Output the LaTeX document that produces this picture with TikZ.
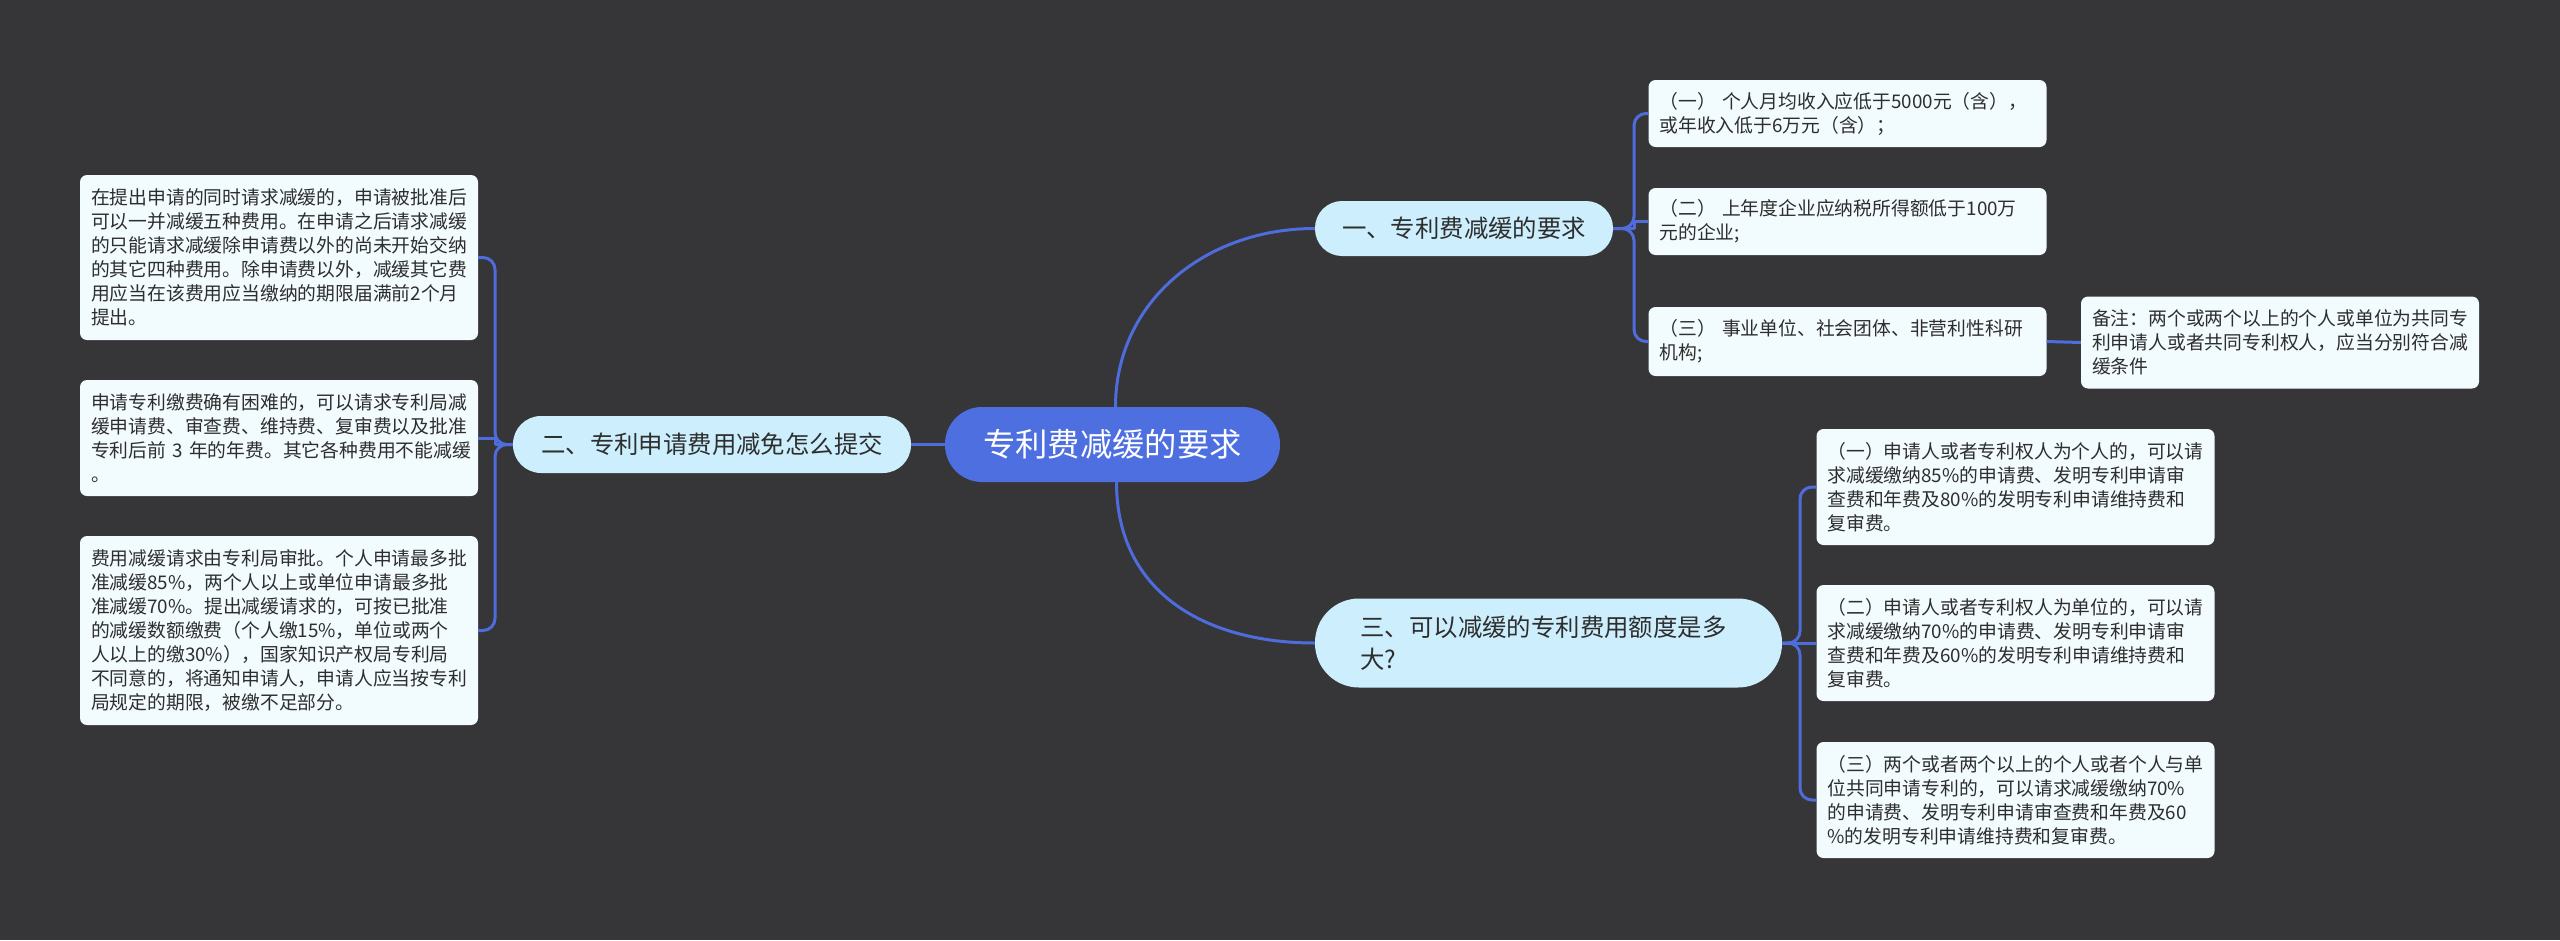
\documentclass[tikz,border=0pt]{standalone}
\usepackage{fontspec}
\setmainfont{Noto Sans CJK SC}
\usetikzlibrary{calc}
\definecolor{bg}{HTML}{363537}
\definecolor{mainc}{HTML}{4D6FE0}
\definecolor{subc}{HTML}{CDEFFD}
\definecolor{leafc}{HTML}{F2FBFE}
\definecolor{linec}{HTML}{4E6CDC}
\definecolor{txtc}{HTML}{2E2E2E}
\begin{document}
\begin{tikzpicture}[x=1pt,y=-1pt,
  conn/.style={draw=linec, line width=3pt, line join=round},
  rconn/.style={conn, rounded corners=12pt},
  leafbox/.style={fill=leafc, rounded corners=7pt, text=txtc, align=left,
    text width=376pt, inner xsep=11pt, inner ysep=0pt,
    font=\fontsize{18.8}{24}\selectfont},
  subbox/.style={fill=subc, text=txtc, inner sep=0pt,
    font=\fontsize{24.4}{32}\selectfont},
  mainbox/.style={fill=mainc, text=white, inner sep=0pt, rounded corners=37pt,
    minimum width=335pt, minimum height=75pt,
    font=\fontsize{32.3}{38}\selectfont}]
\path[fill=bg] (0,0) rectangle (2560,940);

% main and sub topics
\node[mainbox] (root) at (1112.5,444.5) {专利费减缓的要求};
\node[subbox, rounded corners=28pt, minimum width=398pt, minimum height=57pt] (two) at (712,444.5) {二、专利申请费用减免怎么提交};
\node[subbox, rounded corners=27pt, minimum width=298pt, minimum height=55pt] (one) at (1464,228.5) {一、专利费减缓的要求};
\node[subbox, rounded corners=44pt, minimum width=467pt, minimum height=89pt,
  align=left, text width=376pt, inner xsep=45pt] (three) at (1548.5,643) {三、可以减缓的专利费用额度是多\\大?};

% right leaves of one
\node[leafbox, minimum height=67pt] (r1) at (1847.5,113.5) {（一）~个人月均收入应低于5000元（含），\\或年收入低于6万元（含）；};
\node[leafbox, minimum height=67pt] (r2) at (1847.5,221.5) {（二）~上年度企业应纳税所得额低于100万\\元的企业;};
\node[leafbox, minimum height=69pt] (r3) at (1847.5,341.5) {（三）~事业单位、社会团体、非营利性科研\\机构;};
\node[leafbox, minimum height=92pt] (note) at (2280,342.5) {备注：两个或两个以上的个人或单位为共同专\\利申请人或者共同专利权人，应当分别符合减\\缓条件};

% right leaves of three
\node[leafbox, minimum height=116pt] (t1) at (2015.5,487) {（一）申请人或者专利权人为个人的，可以请\\求减缓缴纳85\%的申请费、发明专利申请审\\查费和年费及80\%的发明专利申请维持费和\\复审费。};
\node[leafbox, minimum height=116pt] (t2) at (2015.5,643) {（二）申请人或者专利权人为单位的，可以请\\求减缓缴纳70\%的申请费、发明专利申请审\\查费和年费及60\%的发明专利申请维持费和\\复审费。};
\node[leafbox, minimum height=116pt] (t3) at (2015.5,800) {（三）两个或者两个以上的个人或者个人与单\\位共同申请专利的，可以请求减缓缴纳70\%\\的申请费、发明专利申请审查费和年费及60\\\%的发明专利申请维持费和复审费。};

% left leaves of two
\node[leafbox, minimum height=165pt] (l1) at (279,257.5) {在提出申请的同时请求减缓的，申请被批准后\\可以一并减缓五种费用。在申请之后请求减缓\\的只能请求减缓除申请费以外的尚未开始交纳\\的其它四种费用。除申请费以外，减缓其它费\\用应当在该费用应当缴纳的期限届满前2个月\\提出。};
\node[leafbox, minimum height=116pt] (l2) at (279,438) {申请专利缴费确有困难的，可以请求专利局减\\缓申请费、审查费、维持费、复审费以及批准\\专利后前~3~年的年费。其它各种费用不能减缓\\。};
\node[leafbox, minimum height=189pt] (l3) at (279,630.5) {费用减缓请求由专利局审批。个人申请最多批\\准减缓85\%，两个人以上或单位申请最多批\\准减缓70\%。提出减缓请求的，可按已批准\\的减缓数额缴费（个人缴15\%，单位或两个\\人以上的缴30\%），国家知识产权局专利局\\不同意的，将通知申请人，申请人应当按专利\\局规定的期限，被缴不足部分。};

% junctions
\coordinate (j1) at (1634,228.5);
\coordinate (j2) at (495,444.5);
\coordinate (j3) at (1800,643);

% connectors from root
\draw[conn] (root.west) -- (two.east);
\draw[conn] ([xshift=3pt]root.north) .. controls +(0,-105) and +(-110,0) .. (one.west);
\draw[conn] ([xshift=4pt]root.south) .. controls +(0,110) and +(-110,0) .. (three.west);

% one -> leaves
\draw[rconn] (one.east) -| (j1 |- r1.west) -- (r1.west);
\draw[conn] (one.east) -- (j1) -- (j1 |- r2.west) -- (r2.west);
\draw[rconn] (one.east) -| (j1 |- r3.west) -- (r3.west);
\draw[conn] (r3.east) -- (note.west);

% three -> leaves
\draw[rconn] (three.east) -| (j3 |- t1.west) -- (t1.west);
\draw[conn] (three.east) -- (j3) -- (j3 |- t2.west) -- (t2.west);
\draw[rconn] (three.east) -| (j3 |- t3.west) -- (t3.west);

% two -> leaves
\draw[rconn] (two.west) -| (j2 |- l1.east) -- (l1.east);
\draw[conn] (two.west) -- (j2) -- (j2 |- l2.east) -- (l2.east);
\draw[rconn] (two.west) -| (j2 |- l3.east) -- (l3.east);
\end{tikzpicture}
\end{document}
